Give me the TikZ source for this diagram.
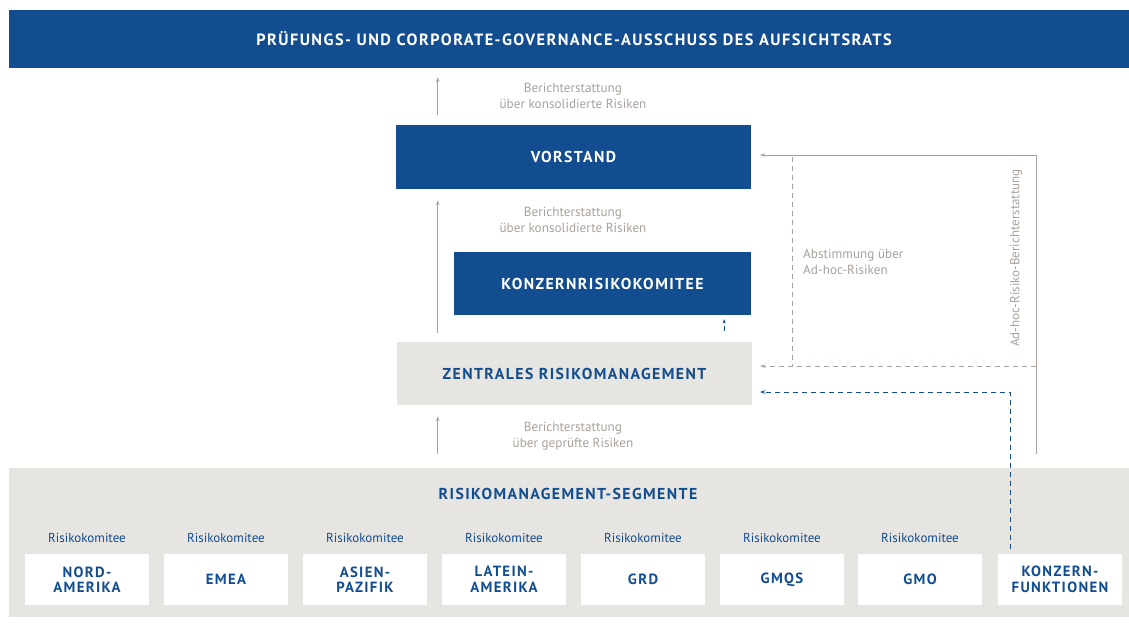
\documentclass[tikz,border=0pt]{standalone}
\usepackage{fontspec}
\setmainfont{PT Sans}
\newfontfamily\capsfont{PT Sans}[LetterSpace=9]
\usetikzlibrary{arrows.meta,calc}
\definecolor{dblue}{HTML}{124D90}
\definecolor{panel}{HTML}{E7E5E1}
\definecolor{gtext}{HTML}{A9A19A}
\tikzset{
  bluebox/.style={fill=dblue,draw=none,text=white,font=\capsfont\bfseries\fontsize{15.8}{17}\selectfont,inner sep=0pt},
  greybox/.style={fill=panel,draw=none,text=dblue,font=\capsfont\bfseries\fontsize{15.8}{17}\selectfont,inner sep=0pt},
  segbox/.style={fill=white,draw=none,text=dblue,minimum width=124pt,minimum height=51pt,inner sep=0pt,align=center,font=\capsfont\bfseries\fontsize{14.8}{15.5}\selectfont},
  komlabel/.style={text=dblue,font=\fontsize{13}{14}\selectfont,inner sep=0pt},
  glabel/.style={text=gtext,font=\fontsize{13.2}{16}\selectfont,inner sep=0pt,align=center},
  garr/.style={draw=gtext,line width=0.9pt,-{Stealth[length=5pt,width=3.5pt]}},
  gline/.style={draw=gtext,line width=0.9pt},
  gdash/.style={draw=gtext,line width=0.9pt,dash pattern=on 5pt off 4pt},
  bdash/.style={draw=dblue,line width=1pt,dash pattern=on 5pt off 4pt},
}
\begin{document}
\begin{tikzpicture}[x=1pt,y=-1pt]
\useasboundingbox (0,0) rectangle (1129,629);
% top bar
\node[bluebox,minimum width=1120pt,minimum height=58pt,font=\capsfont\bfseries\fontsize{16.3}{18}\selectfont] (top) at (569,39) {\hspace*{10pt}PRÜFUNGS- UND CORPORATE-GOVERNANCE-AUSSCHUSS DES AUFSICHTSRATS};
% main boxes
\node[bluebox,minimum width=355pt,minimum height=64pt] (vor) at (573.5,157) {VORSTAND};
\node[bluebox,minimum width=297pt,minimum height=63pt] (krk) at (602.5,283.5) {KONZERNRISIKOKOMITEE};
\node[greybox,minimum width=355pt,minimum height=63pt] (zrm) at (574.5,373.5) {ZENTRALES RISIKOMANAGEMENT};
% panel
\node[fill=panel,minimum width=1120pt,minimum height=149pt,inner sep=0pt] (seg) at (569,542.5) {};
\node[text=dblue,font=\capsfont\bfseries\fontsize{15.8}{17}\selectfont,inner sep=0pt] (segt) at (568,494) {RISIKOMANAGEMENT-SEGMENTE};
% segment boxes
\node[segbox] (s1) at (87,579.5) {NORD-\\AMERIKA};
\node[segbox] (s2) at (226,579.5) {EMEA};
\node[segbox] (s3) at (365,579.5) {ASIEN-\\PAZIFIK};
\node[segbox] (s4) at (504,579.5) {LATEIN-\\AMERIKA};
\node[segbox] (s5) at (643,579.5) {GRD};
\node[segbox] (s6) at (782,579.5) {GMQS};
\node[segbox] (s7) at (920,579.5) {GMO};
\node[segbox] (kf) at (1060,579.5) {KONZERN-\\FUNKTIONEN};
\foreach \i in {1,...,7}{
  \node[komlabel] (k\i) at ($(s\i.north)+(0,-16)$) {Risikokomitee};
}
% grey labels
\node[glabel] (l1) at (573,96) {Berichterstattung\\über konsolidierte Risiken};
\node[glabel] (l2) at (573,220) {Berichterstattung\\über konsolidierte Risiken};
\node[glabel] (l3) at (573,436) {Berichterstattung\\über geprüfte Risiken};
\node[glabel,align=left,anchor=west] (l4) at (803,261.5) {Abstimmung über\\Ad-hoc-Risiken};
\node[text=gtext,font=\fontsize{13}{14}\selectfont,inner sep=0pt,rotate=90] (l5) at (1016,258) {Ad-hoc-Risiko-Berichterstattung};
% vertical grey arrows
\coordinate (a1s) at ($(seg.north west)+(429,-14)$);
\coordinate (a1e) at ($(zrm.south west)+(41,11)$);
\draw[garr] (a1s) -- (a1e);
\coordinate (a2s) at ($(zrm.north west)+(41,-9)$);
\coordinate (a2e) at ($(vor.south west)+(42,11)$);
\draw[garr] (a2s) -- (a2e);
\coordinate (a3s) at ($(vor.north west)+(42,-10)$);
\coordinate (a3e) at ($(top.south west)+(429,9)$);
\draw[garr] (a3s) -- (a3e);
% right side connectors
\coordinate (r1) at ($(seg.north)+(467,-14)$);
\draw[garr] (r1) |- ($(vor.east)+(9,-2)$);
\coordinate (d1) at ($(vor.east)+(41,0)$);
\coordinate (d2) at ($(zrm.east)+(40,-7.5)$);
\draw[gdash] (d1) -- (d2);
\draw[gdash,-{Stealth[length=5pt,width=3.5pt]}] ($(zrm.east)+(284,-7.5)$) -- ($(zrm.east)+(8,-7.5)$);
\draw[bdash,-{Stealth[length=5pt,width=3.5pt]}] ($(kf.north)+(-50,-5)$) |- ($(zrm.east)+(8,18.5)$);
\draw[bdash,-{Stealth[length=4pt,width=3pt]}] ($(krk.south east)+(-27,16)$) -- ($(krk.south east)+(-27,4)$);
\end{tikzpicture}
\end{document}
